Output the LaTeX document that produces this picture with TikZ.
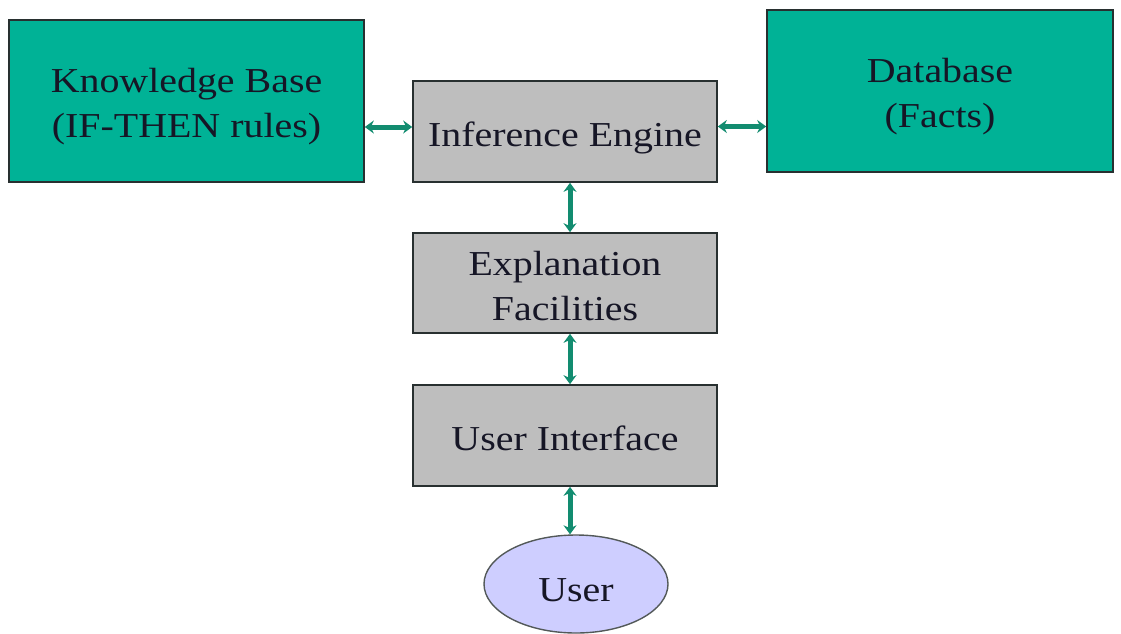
\documentclass[tikz,border=0pt]{standalone}
\usepackage{fontspec}
\setmainfont{Liberation Serif}
\newfontfamily\labelfont[FakeStretch=1.14]{Liberation Serif}
\usetikzlibrary{shapes.geometric,arrows.meta}
\definecolor{kbteal}{RGB}{0,178,150}
\definecolor{boxgray}{RGB}{190,190,190}
\definecolor{userfill}{RGB}{206,206,255}
\definecolor{linkteal}{RGB}{18,140,112}
\definecolor{textdark}{RGB}{22,22,38}
\definecolor{edgedark}{RGB}{40,48,48}
\tikzset{
  block/.style={draw=edgedark, line width=1.6pt, inner sep=0pt},
  store/.style={block, fill=kbteal},
  module/.style={block, fill=boxgray, minimum width=304pt, minimum height=101pt},
  actor/.style={block, ellipse, fill=userfill, draw=edgedark!80, line width=1.4pt},
  caption/.style={inner sep=0pt, align=center, text=textdark,
    font=\labelfont\fontsize{35}{45}\selectfont},
  link/.style={draw=linkteal, line width=5pt,
    {Stealth[length=9pt,width=13pt]}-{Stealth[length=9pt,width=13pt]}}
}
\begin{document}
\begin{tikzpicture}[x=1pt,y=-1pt]
\useasboundingbox (0,0) rectangle (1121,634);

% knowledge and fact stores
\node[store, minimum width=355pt, minimum height=162pt] (kb) at (186.5,101) {};
\node[store, minimum width=346pt, minimum height=162pt] (db) at (940,91) {};

% processing chain
\node[module] (ie) at (565,131.5) {};
\node[module, minimum height=100pt] (ef) at (565,283) {};
\node[module] (ui) at (565,435.5) {};

% the user
\node[actor, minimum width=184pt, minimum height=98pt] (user) at (576,584) {};

% captions
\node[caption] (kbtext) at ([yshift=-6pt]kb.center) {Knowledge Base\\(IF-THEN rules)};
\node[caption] (dbtext) at ([yshift=-6pt]db.center) {Database\\(Facts)};
\node[caption] (ietext) at ([yshift=-6pt]ie.center) {Inference Engine};
\node[caption] (eftext) at ([yshift=-3pt]ef.center) {Explanation\\Facilities};
\node[caption] (uitext) at ([yshift=-3pt]ui.center) {User Interface};
\node[caption] (usertext) at ([yshift=-6pt]user.center) {User};

% connectors
\draw[link] ([yshift=4.5pt]ie.west -| kb.east) -- ([yshift=4.5pt]ie.west);
\draw[link] ([yshift=5pt]ie.east) -- ([yshift=5pt]ie.east -| db.west);
\draw[link] ([xshift=5pt]ie.south) -- ([xshift=5pt]ef.north);
\draw[link] ([xshift=5pt]ef.south) -- ([xshift=5pt]ui.north);
\draw[link] ([xshift=5pt]ui.south) -- ([xshift=5pt]ui.south |- user.north);
\end{tikzpicture}
\end{document}
